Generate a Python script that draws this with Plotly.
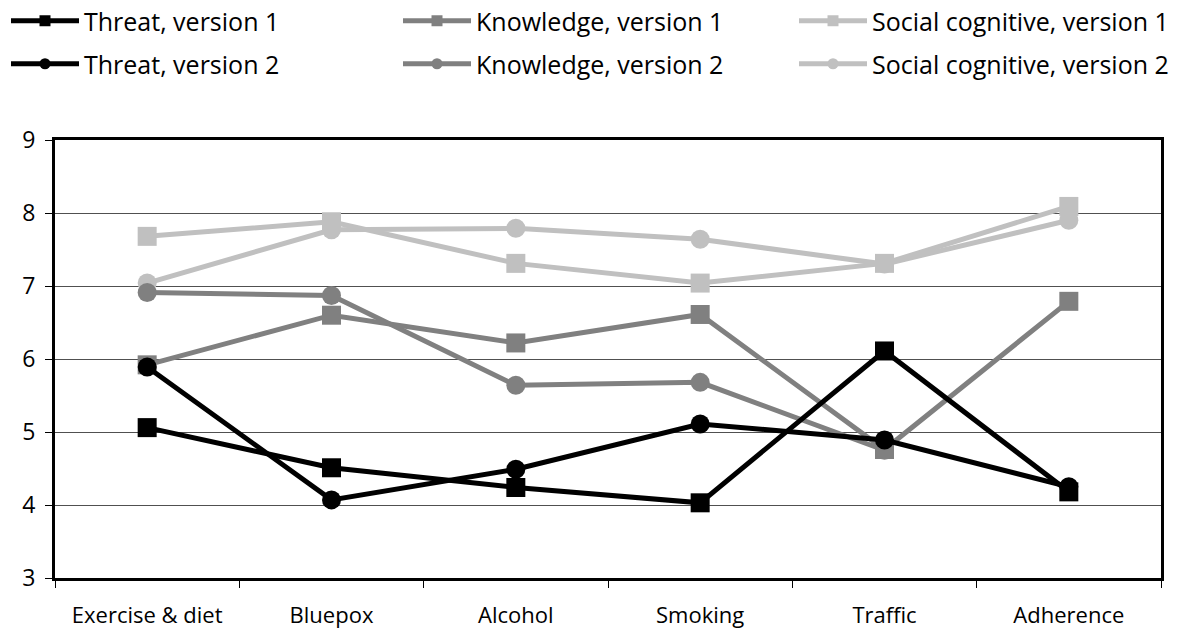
import plotly.graph_objects as go

categories = ["Exercise & diet", "Bluepox", "Alcohol", "Smoking", "Traffic", "Adherence"]

threat_v1 = [5.06, 4.51, 4.24, 4.03, 6.11, 4.18]
threat_v2 = [5.89, 4.07, 4.49, 5.11, 4.89, 4.25]
knowledge_v1 = [5.92, 6.60, 6.22, 6.61, 4.76, 6.79]
knowledge_v2 = [6.91, 6.87, 5.64, 5.68, 4.75, None]
social_v1 = [7.68, 7.88, 7.31, 7.04, 7.31, 8.09]
social_v2 = [7.04, 7.77, 7.79, 7.64, 7.30, 7.90]

y_ticks = [3, 4, 5, 6, 7, 8, 9]

BLACK = "#000000"
GRAY = "#808080"
LIGHT = "#C0C0C0"
FONT = "Open Sans"
W, H = 1184, 634

series = [
    ("Threat, version 1", threat_v1, BLACK, "square"),
    ("Knowledge, version 1", knowledge_v1, GRAY, "square"),
    ("Social cognitive, version 1", social_v1, LIGHT, "square"),
    ("Threat, version 2", threat_v2, BLACK, "circle"),
    ("Knowledge, version 2", knowledge_v2, GRAY, "circle"),
    ("Social cognitive, version 2", social_v2, LIGHT, "circle"),
]

# legend grid: three columns, two rows (pixel offsets in the page)
legend_cols = [6, 398, 794]
legend_rows = [21, 64]

# draw lighter series first so the dark lines sit on top
draw_order = [5, 2, 4, 1, 0, 3]

fig = go.Figure()
for i in draw_order:
    name, vals, color, sym = series[i]
    fig.add_trace(go.Scatter(
        x=categories, y=vals, mode="lines+markers", name=name,
        line=dict(color=color, width=5),
        marker=dict(symbol=sym, size=19, color=color),
        showlegend=False, connectgaps=False,
    ))

# one small legend per entry, laid out as a 3 x 2 grid
legend_layouts = {}
for k, (name, vals, color, sym) in enumerate(series):
    key = "legend" if k == 0 else f"legend{k + 1}"
    fig.add_trace(go.Scatter(
        x=[None], y=[None], mode="lines+markers", name=name,
        line=dict(color=color, width=5),
        marker=dict(symbol=sym, size=11, color=color),
        legend=key,
    ))
    legend_layouts[key] = dict(
        orientation="h", xref="container", yref="container",
        x=legend_cols[k % 3] / W, y=1 - legend_rows[k // 3] / H,
        xanchor="left", yanchor="middle",
        itemwidth=68,
        font=dict(family=FONT, size=25, color="black"),
        bgcolor="rgba(0,0,0,0)",
    )

fig.update_layout(
    width=W, height=H,
    margin=dict(l=55, r=23, t=140, b=56),
    paper_bgcolor="white", plot_bgcolor="white",
    font=dict(family=FONT, size=22, color="black"),
    **legend_layouts,
)

fig.update_xaxes(
    type="category", categoryorder="array", categoryarray=categories,
    range=[-0.5, len(categories) - 0.5],
    tickson="boundaries", ticks="outside", ticklen=7, tickcolor="black", tickwidth=1,
    showline=True, linecolor="black", linewidth=3, mirror=True,
    showgrid=False, ticklabelstandoff=16, tickfont=dict(size=22),
    automargin=False,
)
fig.update_yaxes(
    range=[3, 9], tickvals=y_ticks, ticks="outside", ticklen=7,
    tickcolor="black", tickwidth=1,
    showline=True, linecolor="black", linewidth=3, mirror=True,
    showgrid=True, gridcolor="#505050", gridwidth=1, zeroline=False,
    ticklabelstandoff=5, tickfont=dict(size=23), automargin=False,
)

fig.write_html("out.html")
